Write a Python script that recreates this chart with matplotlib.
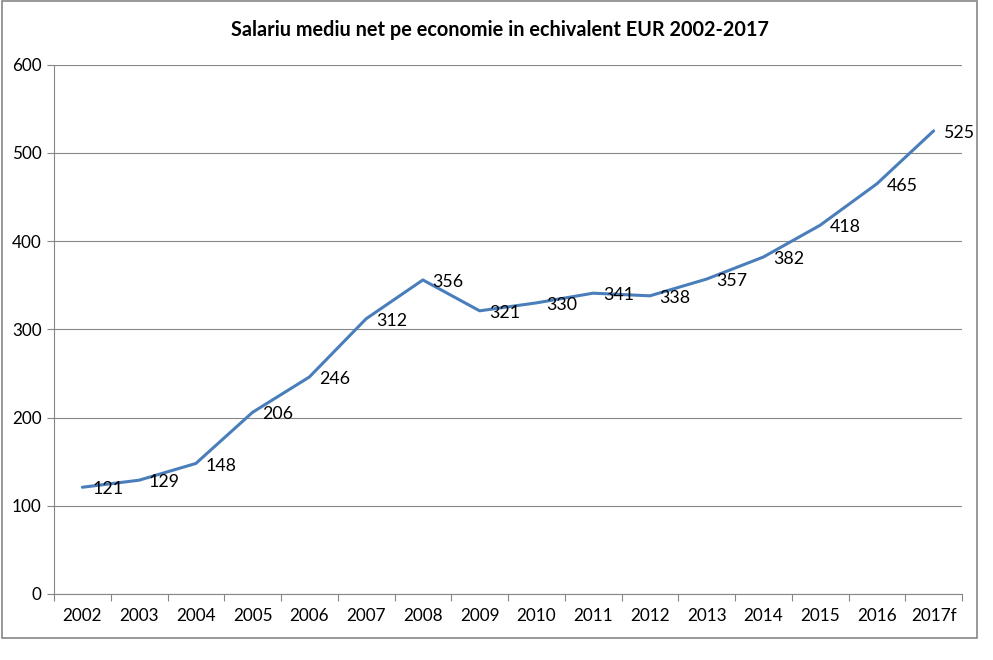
import matplotlib
matplotlib.use("Agg")
import matplotlib.pyplot as plt
from matplotlib.patches import Rectangle

years = ["2002", "2003", "2004", "2005", "2006", "2007", "2008", "2009",
         "2010", "2011", "2012", "2013", "2014", "2015", "2016", "2017f"]
salary = [121, 129, 148, 206, 246, 312, 356, 321, 330, 341, 338, 357, 382, 418, 465, 525]
title = "Salariu mediu net pe economie in echivalent EUR 2002-2017"

plt.rcParams['font.family'] = ['Lato', 'DejaVu Sans']

W, H = 993, 660
fig = plt.figure(figsize=(W / 100, H / 100), dpi=100)
fig.patch.set_facecolor("white")

# outer chart border
fig.add_artist(Rectangle((1.5 / W, 1 - 638 / H), 975 / W, 637 / H,
                         transform=fig.transFigure, fill=False,
                         edgecolor="#868686", linewidth=1.2))

left, right, top, bottom = 54, 962, 64.7, 594
ax = fig.add_axes([left / W, 1 - bottom / H, (right - left) / W, (bottom - top) / H])

n = len(years)
x = list(range(n))
ax.plot(x, salary, color="#4A7EBB", linewidth=2.2, solid_capstyle="round", zorder=3)
for xi, v in zip(x, salary):
    ax.annotate(str(v), (xi, v), xytext=(7, -1.5), textcoords="offset points",
                ha="left", va="center", fontsize=12.8, color="black", zorder=4)

ax.set_xlim(-0.5, n - 0.5)
ax.set_ylim(0, 600)
ax.set_yticks(range(0, 601, 100))
ax.yaxis.grid(True, color="#868686", linewidth=0.8)
ax.set_axisbelow(True)

ax.set_xticks(x)
ax.set_xticklabels(years, fontsize=12.3)
ax.set_xticks([i - 0.5 for i in range(n + 1)], minor=True)
ax.tick_params(axis="x", which="major", length=0, pad=10)
ax.tick_params(axis="x", which="minor", length=5, color="#868686", width=0.8)
ax.tick_params(axis="y", length=5, color="#868686", width=0.8, labelsize=12.3, pad=4)

for s in ["top", "right"]:
    ax.spines[s].set_visible(False)
for s in ["left", "bottom"]:
    ax.spines[s].set_color("#868686")
    ax.spines[s].set_linewidth(0.8)

fig.text(500 / W, 1 - 30 / H, title, ha="center", va="center",
         fontsize=14.3, fontweight="bold")

fig.savefig("out.png", dpi=100)
